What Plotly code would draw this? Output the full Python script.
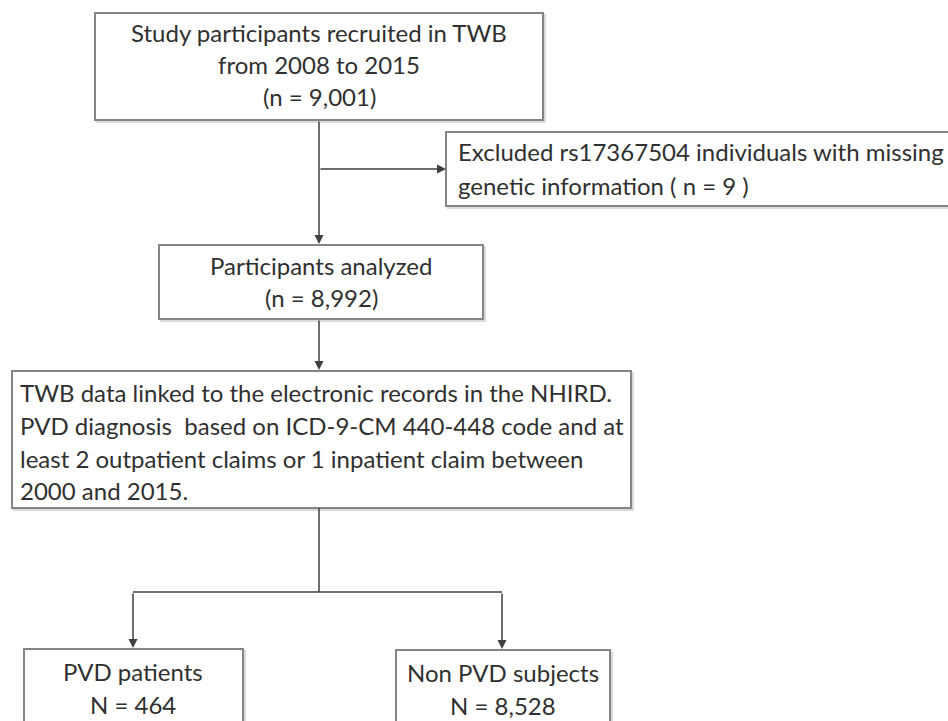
import plotly.graph_objects as go

# ---- data (texts of the flowchart) ----
recruited_lines = ["Study participants recruited in TWB", "from 2008 to 2015", "(n = 9,001)"]
excluded_lines = ["Excluded rs17367504 individuals with missing", "genetic information ( n = 9 )"]
analyzed_lines = ["Participants analyzed", "(n = 8,992)"]
linkage_lines = [
    "TWB data linked to the electronic records in the NHIRD.",
    "PVD diagnosis  based on ICD-9-CM 440-448 code and at",
    "least 2 outpatient claims or 1 inpatient claim between",
    "2000 and 2015.",
]
pvd_lines = ["PVD patients", "N = 464"]
nonpvd_lines = ["Non PVD subjects", "N = 8,528"]

# ---- layout (positions / styles) ----
W, H = 948, 721
FONT = "Lato"
FSIZE = 24
TXT = "#303030"
BORDER = "#858585"
ARROW = "#3f3f3f"

boxes = [
    dict(x0=95, y0=13, x1=543, y1=120, lines=recruited_lines, align="center", cx=319, ys=[32, 64, 96]),
    dict(x0=446, y0=132, x1=962, y1=206, lines=excluded_lines, align="left", cx=456, ys=[151, 185]),
    dict(x0=159, y0=245, x1=483, y1=319, lines=analyzed_lines, align="center", cx=321, ys=[265, 297]),
    dict(x0=12, y0=371, x1=631, y1=508, lines=linkage_lines, align="left", cx=18, ys=[392, 425, 458, 490]),
    dict(x0=24, y0=649, x1=243, y1=740, lines=pvd_lines, align="center", cx=133, ys=[671, 704]),
    dict(x0=396, y0=650, x1=610, y1=740, lines=nonpvd_lines, align="center", cx=503, ys=[672, 705]),
]

fig = go.Figure()
fig.add_trace(go.Scatter(x=[0, W], y=[0, H], mode="markers", marker=dict(opacity=0), hoverinfo="skip", showlegend=False))

shapes = []
annotations = []
for b in boxes:
    shapes.append(dict(type="rect", xref="x", yref="y", x0=b["x0"] + 2, y0=b["y0"] + 2, x1=b["x1"] + 2, y1=b["y1"] + 2,
                       line=dict(color="#dadada", width=2), fillcolor="rgba(0,0,0,0)", layer="below"))
    shapes.append(dict(type="rect", xref="x", yref="y", x0=b["x0"], y0=b["y0"], x1=b["x1"], y1=b["y1"],
                       line=dict(color=BORDER, width=2), fillcolor="white", layer="below"))
    for t, y in zip(b["lines"], b["ys"]):
        annotations.append(dict(x=b["cx"], y=y, xref="x", yref="y", text=t, showarrow=False,
                                xanchor="center" if b["align"] == "center" else "left", yanchor="middle",
                                font=dict(family=FONT, size=FSIZE, color=TXT)))

plain = [
    (319, 508, 319, 592),
    (133, 592, 502, 592),
]
for x0, y0, x1, y1 in plain:
    shapes.append(dict(type="line", xref="x", yref="y", x0=x0, y0=y0, x1=x1, y1=y1,
                       line=dict(color=ARROW, width=1.5)))

arrows = [
    (319, 120, 319, 244),
    (319, 169, 446, 169),
    (319, 319, 319, 370),
    (133, 592, 133, 648),
    (502, 592, 502, 649),
]
for x0, y0, x1, y1 in arrows:
    annotations.append(dict(x=x1, y=y1, ax=x0, ay=y0, xref="x", yref="y", axref="x", ayref="y",
                            text="", showarrow=True, arrowhead=2, arrowsize=1.2, arrowwidth=1.5,
                            arrowcolor=ARROW, standoff=0, startstandoff=0))

fig.update_layout(
    width=W, height=H,
    margin=dict(l=0, r=0, t=0, b=0),
    paper_bgcolor="white", plot_bgcolor="white",
    xaxis=dict(range=[0, W], visible=False, fixedrange=True),
    yaxis=dict(range=[H, 0], visible=False, fixedrange=True),
    shapes=shapes, annotations=annotations,
    showlegend=False,
)

fig.write_html(
    "out.html",
    config={"displayModeBar": False},
    post_script="document.body.style.margin='0';document.documentElement.style.overflow='hidden';document.body.style.overflow='hidden';",
)
